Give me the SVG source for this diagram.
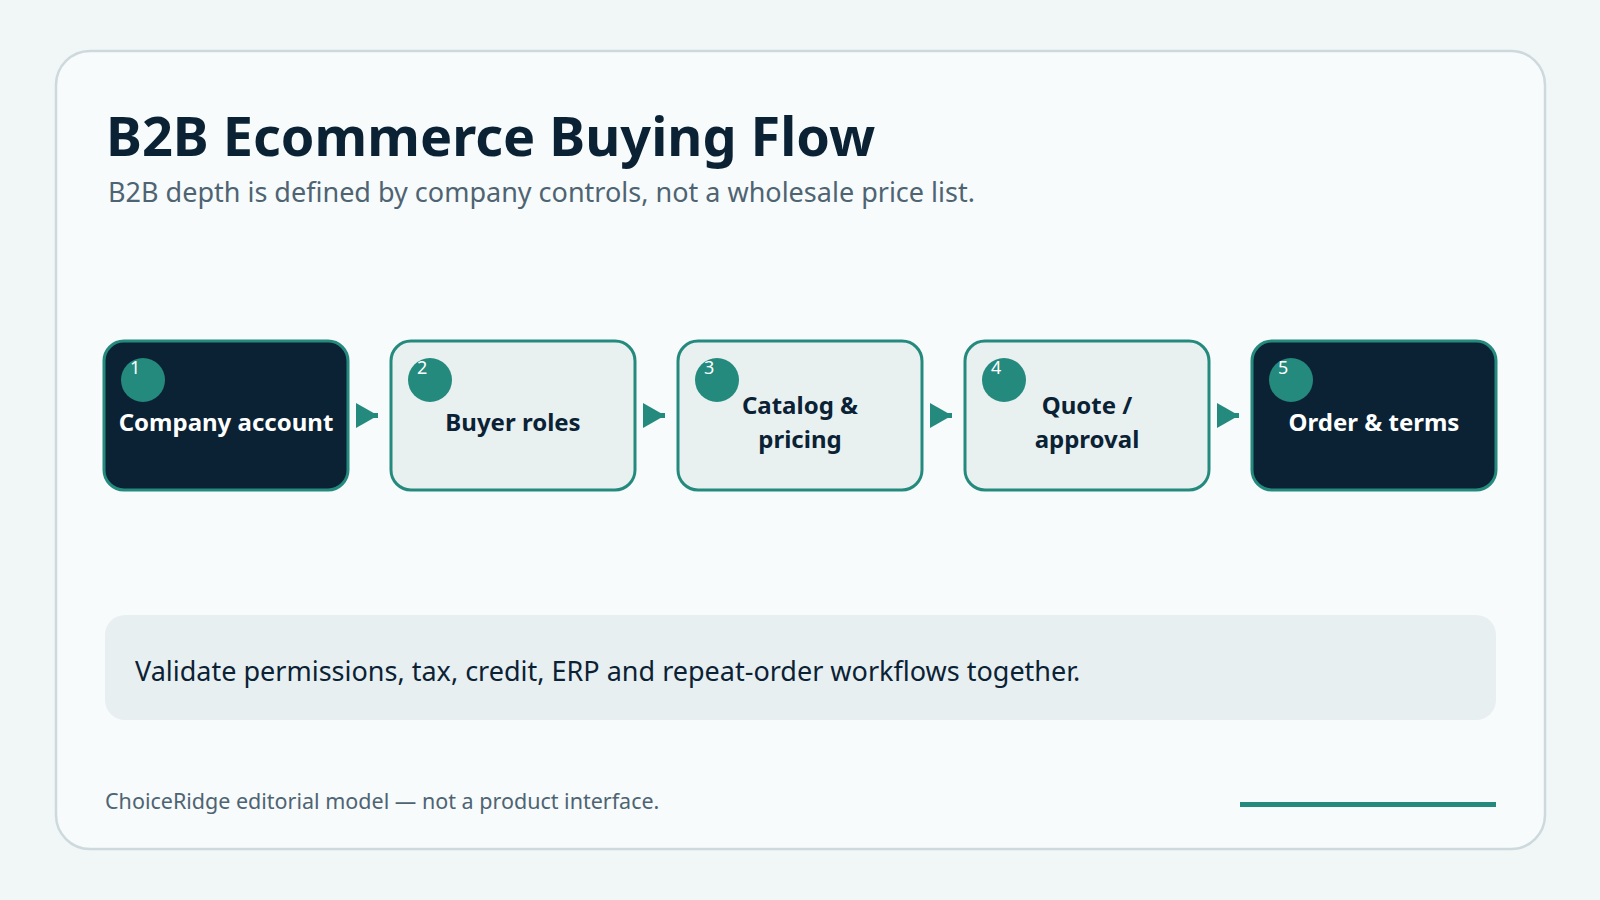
<svg xmlns="http://www.w3.org/2000/svg" width="1600" height="900" viewBox="0 0 1600 900">
<style>
text{font-family:"Noto Sans","Open Sans",sans-serif}
.dark{fill:#0b2235;stroke:#248a7e;stroke-width:3}
.light{fill:#e8f1f0;stroke:#248a7e;stroke-width:3}
.num{fill:#248a7e}
.nt{fill:#fff;font-size:18px}
.lw{fill:#fff;font-size:24px;font-weight:700;text-anchor:middle}
.ld{fill:#0b2235;font-size:24px;font-weight:700;text-anchor:middle}
</style>
<defs><marker id="ah" markerWidth="8" markerHeight="8" refX="7" refY="4" orient="auto" markerUnits="userSpaceOnUse"><path d="M0,0L8,4L0,8z" fill="#248a7e"/></marker></defs>
<rect width="1600" height="900" fill="#f1f6f7"/>
<rect x="56" y="51" width="1489" height="798" rx="34" fill="#f8fbfb" stroke="#cdd9dc" stroke-width="2.5"/>
<text x="106" y="156" font-size="54" font-weight="700" fill="#0b2235">B2B Ecommerce Buying Flow</text>
<text x="108" y="202" font-size="27" fill="#4e6473">B2B depth is defined by company controls, not a wholesale price list.</text>
<g id="connectors" fill="#248a7e">
<path d="M356,403L378,415.5L356,428z"/><rect x="370" y="413" width="8" height="5"/>
<path d="M643,403L665,415.5L643,428z"/><rect x="657" y="413" width="8" height="5"/>
<path d="M930,403L952,415.5L930,428z"/><rect x="944" y="413" width="8" height="5"/>
<path d="M1217,403L1239,415.5L1217,428z"/><rect x="1231" y="413" width="8" height="5"/>
</g>
<g id="n1"><rect class="dark" x="104" y="341" width="244" height="149" rx="20"/><circle class="num" cx="143" cy="380" r="22"/><text class="nt" x="130" y="374">1</text><text class="lw" x="226" y="431">Company account</text></g>
<g id="n2"><rect class="light" x="391" y="341" width="244" height="149" rx="20"/><circle class="num" cx="430" cy="380" r="22"/><text class="nt" x="417" y="374">2</text><text class="ld" x="513" y="431">Buyer roles</text></g>
<g id="n3"><rect class="light" x="678" y="341" width="244" height="149" rx="20"/><circle class="num" cx="717" cy="380" r="22"/><text class="nt" x="704" y="374">3</text><text class="ld" x="800" y="414">Catalog &amp;</text><text class="ld" x="800" y="448">pricing</text></g>
<g id="n4"><rect class="light" x="965" y="341" width="244" height="149" rx="20"/><circle class="num" cx="1004" cy="380" r="22"/><text class="nt" x="991" y="374">4</text><text class="ld" x="1087" y="414">Quote /</text><text class="ld" x="1087" y="448">approval</text></g>
<g id="n5"><rect class="dark" x="1252" y="341" width="244" height="149" rx="20"/><circle class="num" cx="1291" cy="380" r="22"/><text class="nt" x="1278" y="374">5</text><text class="lw" x="1374" y="431">Order &amp; terms</text></g>
<rect x="105" y="615" width="1391" height="105" rx="20" fill="#e8eff1"/>
<text x="135" y="681" font-size="27" fill="#0b2235">Validate permissions, tax, credit, ERP and repeat-order workflows together.</text>
<text x="105" y="809" font-size="21.5" fill="#4e6473">ChoiceRidge editorial model — not a product interface.</text>
<rect x="1240" y="802" width="256" height="5" fill="#248a7e"/>
</svg>
